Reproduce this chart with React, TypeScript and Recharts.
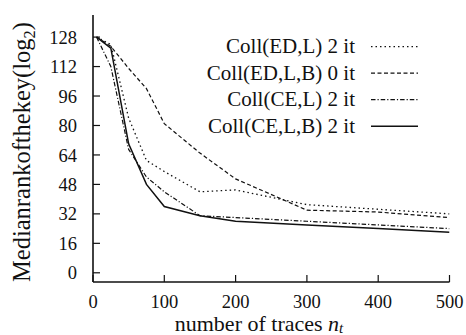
import { LineChart, Line, XAxis, YAxis, Legend, Label } from "recharts";

// number of traces and median rank of the key (log2) per attack
const traces = [5, 25, 50, 75, 100, 150, 200, 300, 400, 500];
const collEdL2 = [128, 124, 84, 61, 55, 44, 45, 37, 34.5, 32];
const collEdLB0 = [128, 123, 111, 100, 81, 65, 51, 34, 33, 30];
const collCeL2 = [128, 112, 67, 52, 44, 31, 30, 28, 26, 24];
const collCeLB2 = [128, 122, 70, 48, 36, 31, 28, 26, 24, 22];

const seriesNames = ["Coll(ED,L) 2 it", "Coll(ED,L,B) 0 it", "Coll(CE,L) 2 it", "Coll(CE,L,B) 2 it"];
const xTicks = [0, 100, 200, 300, 400, 500];
const yTicks = [0, 16, 32, 48, 64, 80, 96, 112, 128];

const FONT = '"Liberation Serif", serif';
const INK = "#111";

const data = traces.map((n, i) => ({
  n,
  edL2: collEdL2[i],
  edLB0: collEdLB0[i],
  ceL2: collCeL2[i],
  ceLB2: collCeLB2[i],
}));

function LegendBox({ payload }: any) {
  const items = [...(payload ?? [])].sort(
    (a: any, b: any) => seriesNames.indexOf(a.value) - seriesNames.indexOf(b.value)
  );
  return (
    <svg width={230} height={110} style={{ display: "block" }}>
      {items.map((entry: any, i: number) => {
        const y = 11.7 + i * 26.5;
        return (
          <g key={i}>
            <text x={155} y={y + 6.5} textAnchor="end" style={{ fontSize: 21, fontFamily: FONT }} fill={INK}>
              {entry.value}
            </text>
            <line
              x1={171}
              x2={218}
              y1={y}
              y2={y}
              stroke={INK}
              strokeWidth={entry.payload?.strokeWidth ?? 1.2}
              strokeDasharray={entry.payload?.strokeDasharray}
            />
          </g>
        );
      })}
    </svg>
  );
}

function YTitle() {
  return (
    <text
      x={30}
      y={152}
      transform="rotate(-90, 30, 152)"
      textAnchor="middle"
      style={{ fontSize: 24.5, fontFamily: FONT }}
      fill={INK}
    >
      Medianrankofthekey(log
      <tspan dy={5} style={{ fontSize: 16.5 }}>2</tspan>
      <tspan dy={-5}>)</tspan>
    </text>
  );
}

function XTitle() {
  return (
    <text x={259} y={331} textAnchor="middle" style={{ fontSize: 22, fontFamily: FONT }} fill={INK}>
      number of traces <tspan style={{ fontStyle: "italic" }}>n</tspan>
      <tspan dy={2} style={{ fontSize: 15, fontStyle: "italic" }}>t</tspan>
    </text>
  );
}

export default function App() {
  const tickStyle = { fontSize: 18.5, fill: INK, style: { fontFamily: FONT } };
  const axisLine = { stroke: INK, strokeWidth: 1.6 };
  const tickLine = { stroke: INK, strokeWidth: 1.2 };
  return (
    <div style={{ position: "absolute", left: 0, top: 0, width: 466, height: 335, background: "#fff", fontFamily: FONT }}>
      <LineChart
        width={466}
        height={335}
        data={data}
        margin={{ top: 15, right: 16.5, bottom: 0, left: 0 }}
        style={{ fontFamily: FONT }}
      >
        <XAxis
          dataKey="n"
          type="number"
          domain={[0, 500]}
          ticks={xTicks}
          allowDataOverflow
          height={53}
          tick={tickStyle}
          tickSize={-7}
          tickMargin={20}
          axisLine={axisLine}
          tickLine={tickLine}
          interval={0}
        >
          <Label content={<XTitle />} />
        </XAxis>
        <XAxis
          xAxisId="top"
          orientation="top"
          dataKey="n"
          type="number"
          domain={[0, 500]}
          ticks={xTicks}
          allowDataOverflow
          height={0}
          tick={false}
          tickSize={-7}
          axisLine={axisLine}
          tickLine={tickLine}
          interval={0}
        />
        <YAxis
          type="number"
          domain={[-5, 140]}
          ticks={yTicks}
          allowDataOverflow
          width={93}
          tick={tickStyle}
          tickSize={-7}
          tickMargin={23}
          axisLine={axisLine}
          tickLine={tickLine}
          interval={0}
        >
          <Label content={<YTitle />} />
        </YAxis>
        <YAxis
          yAxisId="right"
          orientation="right"
          type="number"
          domain={[-5, 140]}
          ticks={yTicks}
          allowDataOverflow
          width={0}
          tick={false}
          tickSize={-7}
          axisLine={axisLine}
          tickLine={tickLine}
          interval={0}
        />
        <Legend
          layout="vertical"
          align="center"
          verticalAlign="middle"
          itemSorter={null as any}
          content={<LegendBox />}
          wrapperStyle={{ position: "absolute", left: 200, top: 35, width: 230, height: 110 }}
        />
        <Line
          name={seriesNames[0]}
          dataKey="edL2"
          type="linear"
          stroke={INK}
          strokeWidth={1.3}
          strokeDasharray="1.5 3"
          dot={false}
          isAnimationActive={false}
        />
        <Line
          name={seriesNames[1]}
          dataKey="edLB0"
          type="linear"
          stroke={INK}
          strokeWidth={1.2}
          strokeDasharray="4 2.5"
          dot={false}
          isAnimationActive={false}
        />
        <Line
          name={seriesNames[2]}
          dataKey="ceL2"
          type="linear"
          stroke={INK}
          strokeWidth={1.2}
          strokeDasharray="4.5 2 1.2 2"
          dot={false}
          isAnimationActive={false}
        />
        <Line
          name={seriesNames[3]}
          dataKey="ceLB2"
          type="linear"
          stroke={INK}
          strokeWidth={1.5}
          dot={false}
          isAnimationActive={false}
        />
      </LineChart>
    </div>
  );
}
